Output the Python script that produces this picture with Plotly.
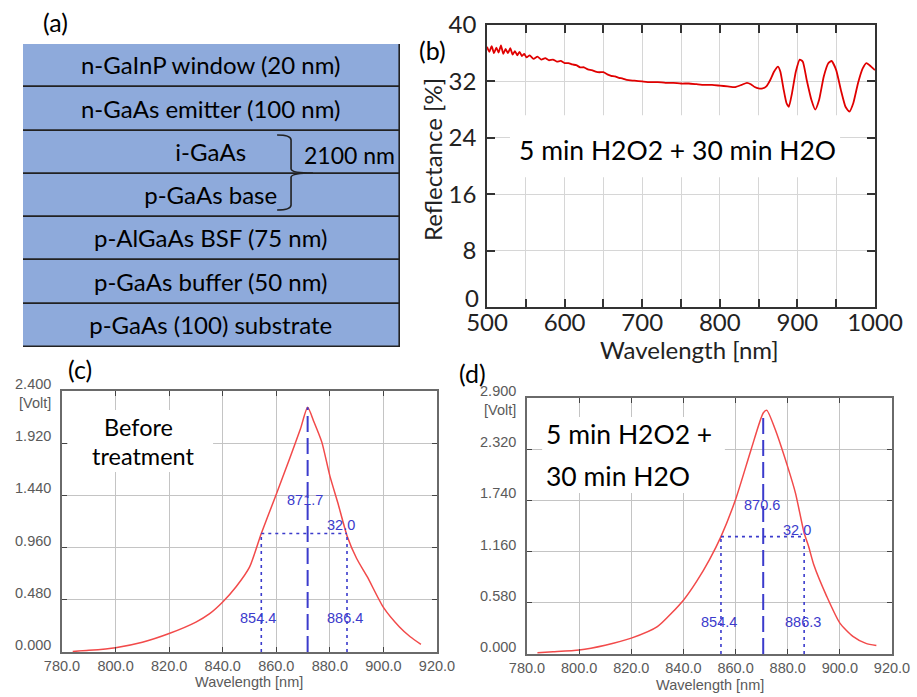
import plotly.graph_objects as go

# ---------------- data ----------------
# (a) layer stack
layers = ["n-GaInP window (20 nm)", "n-GaAs emitter (100 nm)", "i-GaAs", "p-GaAs base",
          "p-AlGaAs BSF (75 nm)", "p-GaAs buffer (50 nm)", "p-GaAs (100) substrate"]
layer_span = [1, 1, 1, 1, 1, 1, 1]
bracket_label = "2100 nm"

# (b) reflectance spectrum
refl_wl = [500, 503, 506, 509, 512, 515, 518, 521, 524, 527, 530, 533, 536, 539, 542, 545, 548, 551,
           555, 560, 565, 570, 575, 580, 585, 590, 595, 600, 605, 610, 615, 620, 625, 630, 635, 640,
           645, 650, 655, 660, 665, 670, 675, 680, 690, 700, 710, 720, 730, 740, 750, 760, 770, 780,
           790, 800, 810, 820, 828, 835, 840, 845, 850, 855, 860, 865, 870, 875, 878, 882, 886, 889,
           893, 898, 903, 907, 912, 918, 923, 928, 934, 940, 944, 950, 956, 962, 967, 972, 978, 984,
           989, 995, 1000]
refl_pct = [36.9, 36.2, 37.0, 36.0, 36.8, 36.1, 37.1, 35.9, 36.6, 36.0, 36.7, 35.8, 36.3, 35.7, 36.2,
            35.6, 35.9, 35.4, 35.7, 35.2, 35.5, 35.1, 35.3, 35.0, 35.1, 34.8, 34.9, 34.6, 34.6, 34.4,
            34.3, 34.0, 34.0, 33.7, 33.6, 33.4, 33.3, 33.3, 33.0, 32.8, 32.7, 32.5, 32.4, 32.2, 32.1,
            32.0, 31.9, 31.9, 31.8, 31.8, 31.7, 31.7, 31.6, 31.5, 31.5, 31.4, 31.3, 31.2, 31.5, 31.8,
            31.6, 31.2, 31.0, 31.0, 31.3, 32.2, 33.4, 34.1, 33.4, 31.0, 28.9, 28.4, 30.3, 33.4, 35.1,
            34.8, 32.2, 29.4, 28.0, 29.4, 32.7, 34.6, 34.9, 33.6, 30.8, 28.4, 27.7, 28.9, 31.7, 33.8,
            34.6, 34.1, 33.6]
refl_label = "5 min H2O2 + 30 min H2O"

# (c) PL before treatment
pl_c_wl = [784, 790, 800, 810, 820, 830, 835, 840, 845, 850, 854.4, 860, 865, 869, 871.7, 874, 877,
           880, 883, 886.4, 890, 894, 900, 906, 910, 914]
pl_c_v = [0.005, 0.015, 0.04, 0.09, 0.17, 0.275, 0.35, 0.46, 0.6, 0.78, 1.09, 1.45, 1.78, 2.05, 2.25,
          2.12, 1.93, 1.62, 1.37, 1.07, 0.86, 0.69, 0.41, 0.23, 0.14, 0.07]
c_peak, c_peak_v, c_left, c_right, c_half_v, c_fwhm = 871.7, 2.25, 854.4, 886.4, 1.09, 32.0
c_label = ["Before", "treatment"]

# (d) PL after treatment
pl_d_wl = [784, 790, 800, 810, 820, 830, 840, 845, 850, 854.4, 860, 866, 870.6, 872, 875, 880, 883,
           886.3, 888, 890, 895, 900, 905, 910, 914]
pl_d_v = [0.015, 0.025, 0.045, 0.10, 0.18, 0.31, 0.61, 0.82, 1.07, 1.33, 1.75, 2.32, 2.73, 2.76, 2.56,
          2.12, 1.82, 1.37, 1.22, 1.01, 0.65, 0.35, 0.20, 0.12, 0.095]
d_peak, d_peak_v, d_left, d_right, d_half_v, d_fwhm = 870.6, 2.73, 854.4, 886.3, 1.33, 32.0
d_label = ["5 min H2O2 +", "30 min H2O"]

c_yticks = [0, 0.48, 0.96, 1.44, 1.92, 2.4]
d_yticks = [0, 0.58, 1.16, 1.74, 2.32, 2.9]
pl_xticks = [780, 800, 820, 840, 860, 880, 900, 920]
refl_yticks = [0, 8, 16, 24, 32, 40]
refl_xticks = [500, 600, 700, 800, 900, 1000]

# ---------------- layout helpers ----------------
W, H = 917, 697
def fx(p): return p / W
def fy(p): return 1 - p / H

SANS = "Lato"
SOFT = "Liberation Sans"
RED_PL = "#F24A4A"
BLUE = "#3B3BCC"
GRAY_TXT = "#5A5A5A"

fig = go.Figure()

# (a) diagram as horizontal bars
fig.add_trace(go.Bar(
    y=list(range(len(layers))), x=layer_span, orientation="h",
    text=layers, textposition="inside", insidetextanchor="middle", textangle=0,
    constraintext="none",
    textfont=dict(family=SANS, size=24, color="black"),
    marker=dict(color="#8EAADB", line=dict(color="#222222", width=1.6)),
    xaxis="x4", yaxis="y4", hoverinfo="skip", showlegend=False, width=1))

# (b) reflectance
fig.add_trace(go.Scatter(x=refl_wl, y=refl_pct, mode="lines",
                         line=dict(color="#E00000", width=1.8, shape="spline", smoothing=0.5),
                         xaxis="x", yaxis="y", showlegend=False))

# (c) and (d) PL spectra
def pl_traces(wl, v, peak, peak_v, left, right, half_v, xa, ya):
    fig.add_trace(go.Scatter(x=wl, y=v, mode="lines",
                             line=dict(color=RED_PL, width=1.5, shape="spline", smoothing=0.6),
                             xaxis=xa, yaxis=ya, showlegend=False))
    fig.add_trace(go.Scatter(x=[peak, peak], y=[0, peak_v], mode="lines",
                             line=dict(color=BLUE, width=2, dash="16px,6px"),
                             xaxis=xa, yaxis=ya, showlegend=False))
    fig.add_trace(go.Scatter(x=[left, right], y=[half_v, half_v], mode="lines",
                             line=dict(color=BLUE, width=1.6, dash="3px,4px"),
                             xaxis=xa, yaxis=ya, showlegend=False))
    for xx in (left, right):
        fig.add_trace(go.Scatter(x=[xx, xx], y=[0, half_v], mode="lines",
                                 line=dict(color=BLUE, width=1.6, dash="3px,4px"),
                                 xaxis=xa, yaxis=ya, showlegend=False))

pl_traces(pl_c_wl, pl_c_v, c_peak, c_peak_v, c_left, c_right, c_half_v, "x2", "y2")
pl_traces(pl_d_wl, pl_d_v, d_peak, d_peak_v, d_left, d_right, d_half_v, "x3", "y3")

pl_axis_common = dict(showline=True, mirror="allticks", linecolor="#6A6A6A", linewidth=1.5,
                      showgrid=True, gridcolor="#C4C4C4", gridwidth=1.4, zeroline=False,
                      ticks="inside", ticklen=5, tickcolor="#444444", tickwidth=1.4,
                      automargin=False,
                      tickfont=dict(family=SOFT, size=14.5, color=GRAY_TXT))

# bottom "0" label of (b) sits a little above its tick in the reference
refl_yticktext = ["" if v == 0 else str(v) for v in refl_yticks]

fig.update_layout(
    template="none",
    width=W, height=H, margin=dict(l=0, r=0, t=0, b=0, pad=0), autosize=False,
    paper_bgcolor="white", plot_bgcolor="white", bargap=0, showlegend=False,
    # (b)
    xaxis=dict(domain=[fx(487), fx(875)], range=[500, 1000], tickvals=refl_xticks,
               showline=True, mirror="allticks", linecolor="#333333", linewidth=1.6,
               ticks="inside", ticklen=8, tickcolor="#333333", tickwidth=1.5,
               showgrid=True, gridcolor="#D6D6D6", gridwidth=1.4, zeroline=False,
               minor=dict(dtick=50, ticks="inside", ticklen=8, tickcolor="#333333",
                          showgrid=True, gridcolor="#D6D6D6", gridwidth=1.4),
               automargin=False, ticklabelstandoff=-7,
               tickfont=dict(family=SANS, size=24, color="#222222"), anchor="y"),
    yaxis=dict(domain=[fy(307), fy(25)], range=[0, 40], tickvals=refl_yticks,
               ticktext=refl_yticktext,
               showline=True, mirror="allticks", linecolor="#333333", linewidth=1.6,
               ticks="inside", ticklen=8, tickcolor="#333333", tickwidth=1.5,
               showgrid=True, gridcolor="#D6D6D6", gridwidth=1.4, zeroline=False,
               automargin=False, ticklabelstandoff=4,
               tickfont=dict(family=SANS, size=24, color="#222222"), anchor="x"),
    # (c)
    xaxis2=dict(domain=[fx(62), fx(437)], range=[780, 920], tickvals=pl_xticks, tickformat=".1f",
                anchor="y2", ticklabelstandoff=0, **pl_axis_common),
    yaxis2=dict(domain=[fy(652), fy(391)], range=[0, 2.4], tickvals=c_yticks, tickformat=".3f",
                anchor="x2", ticklabelshift=-7, ticklabelstandoff=6, **pl_axis_common),
    # (d)
    xaxis3=dict(domain=[fx(527), fx(892)], range=[780, 920], tickvals=pl_xticks, tickformat=".1f",
                anchor="y3", ticklabelstandoff=0, **pl_axis_common),
    yaxis3=dict(domain=[fy(654), fy(398)], range=[0, 2.9], tickvals=d_yticks, tickformat=".3f",
                anchor="x3", ticklabelshift=-7, ticklabelstandoff=6, **pl_axis_common),
    # (a)
    xaxis4=dict(domain=[fx(23), fx(400)], range=[0, 1], visible=False, fixedrange=True,
                anchor="y4", automargin=False),
    yaxis4=dict(domain=[fy(347), fy(44)], range=[len(layers) - 0.5, -0.5], visible=False,
                fixedrange=True, anchor="x4", automargin=False),
)

shapes = []
# curly bracket in (a)
shapes.append(dict(type="path", xref="x4", yref="y4",
                   path="M 0.674,1.602 Q 0.711,1.602 0.711,1.72 L 0.711,2.38 Q 0.711,2.48 0.769,2.48 "
                        "M 0.769,2.48 Q 0.711,2.48 0.711,2.58 L 0.711,3.22 Q 0.711,3.335 0.674,3.335",
                   line=dict(color="#222222", width=1.6)))
# white boxes behind in-plot labels
shapes.append(dict(type="rect", xref="x", yref="y", x0=529.6, x1=955, y0=18.4, y1=27.2,
                   fillcolor="white", line=dict(width=0), layer="between"))
shapes.append(dict(type="rect", xref="x2", yref="y2", x0=782.2, x1=836.4, y0=1.655, y1=2.225,
                   fillcolor="white", line=dict(width=0), layer="between"))
shapes.append(dict(type="rect", xref="x3", yref="y3", x0=785.8, x1=855.9, y0=1.824, y1=2.685,
                   fillcolor="white", line=dict(width=0), layer="between"))
fig.update_layout(shapes=shapes)

ann = []
def paper_text(t, x, y, size, family=SANS, color="black", xanchor="center", angle=0):
    ann.append(dict(text=t, x=fx(x), y=fy(y), xref="paper", yref="paper", showarrow=False,
                    xanchor=xanchor, yanchor="middle", textangle=angle,
                    font=dict(family=family, size=size, color=color)))

# panel labels
paper_text("(a)", 55, 22, 25)
paper_text("(b)", 432, 50, 25)
paper_text("(c)", 80, 369, 25)
paper_text("(d)", 472, 373, 25)
# (a) bracket label
ann.append(dict(text=bracket_label, x=0.867, y=2.06, xref="x4", yref="y4", showarrow=False,
                font=dict(family=SANS, size=23, color="black")))
# (b) titles & label
paper_text("Wavelength [nm]", 689, 349, 24, color="#222222")
paper_text("Reflectance [%]", 433, 160, 24, color="#222222", angle=-90)
paper_text(str(refl_yticks[0]), 481, 298, 24, color="#222222", xanchor="right")
ann.append(dict(text=refl_label, x=746, y=22.3, xref="x", yref="y", showarrow=False,
                font=dict(family=SANS, size=26.5, color="black")))
# (c)
paper_text("[Volt]", 53, 403, 14.5, family=SOFT, color=GRAY_TXT, xanchor="right")
paper_text("Wavelength [nm]", 249, 682, 14.5, family=SOFT, color=GRAY_TXT)
ann.append(dict(text=c_label[0], x=808.5, y=2.07, xref="x2", yref="y2", showarrow=False,
                font=dict(family=SANS, size=23.5, color="black")))
ann.append(dict(text=c_label[1], x=810.5, y=1.80, xref="x2", yref="y2", showarrow=False,
                font=dict(family=SANS, size=23.5, color="black")))
for t, x, y in [(f"{c_peak:.1f}", 870.7, 1.398), (f"{c_fwhm:.1f}", 884.2, 1.168),
                (f"{c_left:.1f}", 853.2, 0.313), (f"{c_right:.1f}", 885.6, 0.313)]:
    ann.append(dict(text=t, x=x, y=y, xref="x2", yref="y2", showarrow=False,
                    font=dict(family=SOFT, size=14.5, color=BLUE)))
# (d)
paper_text("[Volt]", 518, 410, 14.5, family=SOFT, color=GRAY_TXT, xanchor="right")
paper_text("Wavelength [nm]", 710, 685, 14.5, family=SOFT, color=GRAY_TXT)
ann.append(dict(text=d_label[0], x=786.5, y=2.49, xref="x3", yref="y3", showarrow=False,
                xanchor="left", font=dict(family=SANS, size=26.5, color="black")))
ann.append(dict(text=d_label[1], x=786.5, y=2.02, xref="x3", yref="y3", showarrow=False,
                xanchor="left", font=dict(family=SANS, size=26.5, color="black")))
for t, x, y in [(f"{d_peak:.1f}", 870.1, 1.688), (f"{d_fwhm:.1f}", 883.6, 1.405),
                (f"{d_left:.1f}", 853.6, 0.362), (f"{d_right:.1f}", 885.9, 0.362)]:
    ann.append(dict(text=t, x=x, y=y, xref="x3", yref="y3", showarrow=False,
                    font=dict(family=SOFT, size=14.5, color=BLUE)))
fig.update_layout(annotations=ann)

fig.write_html("out.html", config={"displayModeBar": False},
               post_script="document.body.style.margin='0px';document.body.style.overflow='hidden';")
